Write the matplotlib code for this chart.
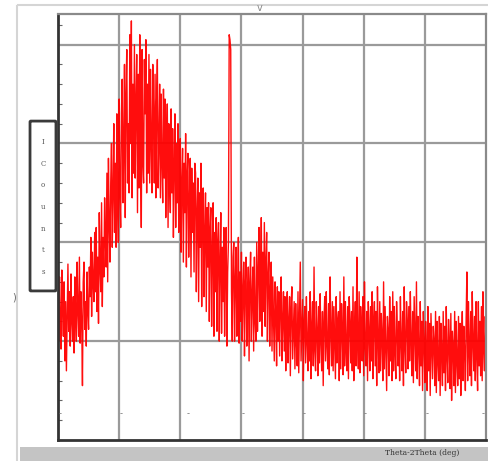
import numpy as np
import matplotlib
matplotlib.use("Agg")
import matplotlib.pyplot as plt
from matplotlib.patches import Rectangle, FancyBboxPatch
from matplotlib.lines import Line2D

# 2-theta scan: start, step (deg)
theta_start = 20.0
theta_step = 0.125
counts = [
    150, 100, 165, 120, 92, 172, 135, 105, 160, 80,
    140, 70, 125, 178, 110, 150, 95, 168, 120, 100,
    145, 88, 165, 125, 100, 180, 130, 105, 185, 98,
    150, 120, 55, 160, 180, 112, 140, 95, 170, 130,
    112, 175, 145, 205, 125, 190, 160, 140, 210, 150,
    215, 130, 185, 118, 230, 175, 150, 240, 135, 205,
    165, 245, 200, 175, 270, 160, 285, 220, 180, 260,
    300, 195, 250, 320, 210, 280, 195, 330, 240, 200,
    345, 250, 215, 330, 365, 240, 300, 380, 225, 350,
    395, 260, 320, 250, 410, 300, 424, 245, 360, 270,
    400, 265, 340, 390, 230, 370, 255, 410, 290, 215,
    395, 280, 260, 385, 330, 405, 250, 360, 270, 390,
    260, 375, 300, 250, 380, 330, 260, 370, 245, 340,
    385, 255, 300, 360, 245, 350, 280, 240, 355, 265,
    345, 225, 300, 340, 215, 320, 260, 230, 335, 250,
    315, 205, 280, 330, 215, 300, 240, 320, 210, 290,
    305, 190, 260, 295, 180, 280, 230, 310, 175, 270,
    290, 185, 240, 285, 165, 275, 210, 260, 170, 280,
    270, 150, 230, 265, 140, 250, 195, 280, 135, 240,
    255, 145, 210, 250, 130, 235, 175, 240, 120, 215,
    235, 115, 190, 240, 105, 210, 150, 225, 110, 200,
    220, 100, 180, 230, 108, 195, 140, 215, 105, 175,
    215, 95, 170, 200, 410, 405, 395, 150, 100, 185,
    200, 100, 160, 195, 105, 150, 205, 98, 170, 120,
    190, 100, 150, 180, 85, 160, 185, 95, 140, 175,
    80, 160, 190, 100, 145, 175, 90, 185, 120, 100,
    200, 110, 170, 215, 120, 160, 225, 105, 190, 130,
    220, 115, 180, 210, 100, 165, 190, 95, 150, 180,
    90, 165, 120, 80, 160, 130, 75, 155, 100, 150,
    85, 140, 165, 80, 120, 150, 90, 145, 70, 130,
    150, 78, 120, 145, 65, 135, 155, 82, 110, 140,
    72, 138, 100, 75, 150, 68, 125, 180, 80, 110,
    142, 60, 120, 135, 78, 145, 100, 70, 130, 80,
    150, 62, 115, 140, 75, 175, 90, 70, 140, 110,
    65, 135, 78, 148, 100, 70, 130, 55, 120, 145,
    80, 150, 95, 72, 138, 66, 165, 110, 75, 140,
    70, 135, 100, 62, 145, 78, 120, 130, 60, 150,
    72, 138, 110, 66, 165, 75, 140, 95, 70, 135,
    62, 145, 120, 78, 130, 70, 155, 60, 110, 140,
    75, 185, 100, 72, 150, 68, 135, 115, 80, 145,
    65, 160, 95, 75, 130, 60, 140, 110, 70, 135,
    80, 150, 62, 120, 140, 75, 130, 55, 155, 100,
    68, 140, 70, 128, 105, 60, 160, 72, 135, 95,
    50, 125, 110, 65, 145, 80, 130, 60, 150, 70,
    135, 90, 62, 140, 110, 75, 120, 60, 145, 100,
    70, 130, 55, 155, 95, 68, 140, 120, 72, 135,
    80, 150, 100, 65, 130, 58, 145, 110, 70, 160,
    62, 125, 95, 55, 140, 75, 120, 50, 130, 100,
    58, 120, 90, 50, 135, 70, 118, 45, 128, 95,
    62, 115, 100, 55, 130, 48, 120, 80, 60, 125,
    45, 118, 90, 55, 130, 68, 115, 50, 135, 85,
    58, 122, 100, 52, 128, 40, 110, 95, 55, 130,
    48, 120, 80, 55, 125, 62, 118, 45, 100, 130,
    60, 115, 90, 50, 122, 170, 60, 140, 95, 65,
    130, 55, 150, 100, 70, 125, 60, 140, 85, 50,
    140, 75, 120, 65, 135, 60, 150, 90, 70, 125,
    100,
]
x_gridlines = [30, 40, 50, 60, 70, 80]
y_gridlines = [100, 200, 300, 400]
ylabel_letters = ["I", "C", "o", "u", "n", "t", "s"]
xlabel_text = "Theta-2Theta (deg)"

theta = theta_start + theta_step * np.arange(len(counts))

W, H = 489, 461
fig = plt.figure(figsize=(W / 100, H / 100), dpi=100)
fig.patch.set_facecolor("white")

def fx(px):
    return px / W

def fy(py):
    return 1 - py / H

ax = fig.add_axes([fx(58), fy(440), fx(486) - fx(58), fy(14) - fy(440)])
ax.set_xlim(20, 90)
ax.set_ylim(0, 431)
ax.set_xticks(x_gridlines)
ax.set_yticks(y_gridlines)
ax.set_xticklabels([])
ax.set_yticklabels([])
ax.tick_params(length=0)
ax.set_yticks(np.arange(0, 431, 20), minor=True)
ax.tick_params(axis="y", which="minor", direction="in", length=3, color="#666666", width=0.8)
ax.grid(True, color="#9a9a9a", linewidth=1.6)
ax.set_axisbelow(True)

ax.plot(theta, counts, color="#ff0000", linewidth=1.0, alpha=0.95)

for side in ["left", "bottom"]:
    ax.spines[side].set_color("#333333")
    ax.spines[side].set_linewidth(2.0)
for side in ["top", "right"]:
    ax.spines[side].set_color("#8a8a8a")
    ax.spines[side].set_linewidth(1.6)

# small blurred tick labels along bottom
for xv in [20.4, 30.3, 41.2, 50.3, 60.3, 70.3, 80.3, 89.6]:
    ax.text(xv, 27, "-", fontsize=6, color="#777777", ha="center", va="center")

# outer light frame
fig.add_artist(Line2D([fx(18), 1], [fy(5), fy(5)], color="#d5d5d5", lw=1.5))
fig.add_artist(Line2D([fx(17), fx(17)], [fy(6), 0], color="#d5d5d5", lw=1.5))

# bottom gray bar
fig.add_artist(Rectangle((fx(20), 0), 1 - fx(20), 14 / H, transform=fig.transFigure,
                         facecolor="#c4c4c4", edgecolor="none"))
fig.text(fx(422), fy(453), xlabel_text, fontsize=5.5, family="DejaVu Serif",
         color="#333333", ha="center", va="center")

# y label box
fig.add_artist(FancyBboxPatch((fx(31), fy(290)), fx(24), 168 / H,
                              boxstyle="round,pad=0.002", transform=fig.transFigure,
                              facecolor="white", edgecolor="#3a3a3a", lw=2.0))
ys = np.linspace(142, 272, len(ylabel_letters))
for letter, yy in zip(ylabel_letters, ys):
    fig.text(fx(43), fy(yy), letter, fontsize=5, color="#555555",
             ha="center", va="center", family="DejaVu Serif")

# small artifacts
fig.text(fx(260), fy(8), "v", fontsize=7, color="#888888", ha="center", va="center")
fig.text(fx(14), fy(297), ")", fontsize=7, color="#666666", ha="center", va="center")

fig.savefig("out.png", dpi=100, facecolor="white")
